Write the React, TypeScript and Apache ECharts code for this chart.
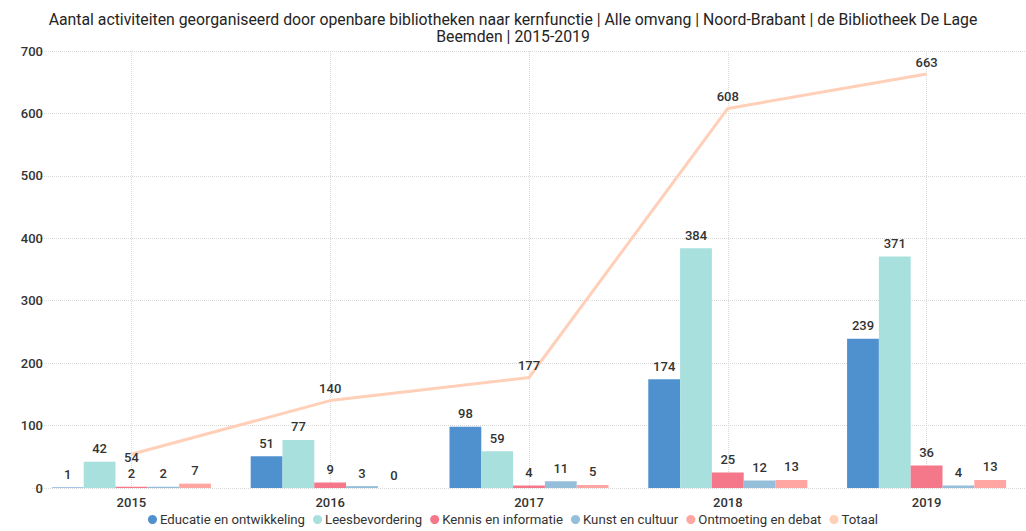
import React, { useEffect, useRef } from "react";
import * as echarts from "echarts";

const years = ["2015", "2016", "2017", "2018", "2019"];
const educatie = [1, 51, 98, 174, 239];
const leesbevordering = [42, 77, 59, 384, 371];
const kennis = [2, 9, 4, 25, 36];
const kunst = [2, 3, 11, 12, 4];
const ontmoeting = [7, 0, 5, 13, 13];
const totaal = [54, 140, 177, 608, 663];

const seriesNames = [
  "Educatie en ontwikkeling",
  "Leesbevordering",
  "Kennis en informatie",
  "Kunst en cultuur",
  "Ontmoeting en debat",
  "Totaal",
];
const colors = ["#4F90CF", "#A8E0DE", "#F4788A", "#95BEDA", "#FFA6A2", "#FFCFB8"];

const FONT = "Roboto, 'DejaVu Sans', sans-serif";
const TEXT = "#333333";

export default function App() {
  const ref = useRef<HTMLDivElement>(null);

  useEffect(() => {
    if (!ref.current) return;
    const chart = echarts.init(ref.current, null, { renderer: "svg" });
    const barData = [educatie, leesbevordering, kennis, kunst, ontmoeting];
    const labelStyle = {
      show: true,
      position: "top" as const,
      color: TEXT,
      fontSize: 13,
      lineHeight: 12,
      fontWeight: 500,
      fontFamily: FONT,
      distance: 7,
    };
    const bars = barData.map((d, i) => ({
      name: seriesNames[i],
      type: "bar",
      data: d,
      barGap: "0%",
      barCategoryGap: "20%",
      z: 3,
      itemStyle: { color: colors[i] },
      label: labelStyle,
    }));
    chart.setOption({
      animation: false,
      color: colors,
      textStyle: { fontFamily: FONT },
      title: {
        text:
          "Aantal activiteiten georganiseerd door openbare bibliotheken naar kernfunctie | Alle omvang | Noord-Brabant | de Bibliotheek De Lage\nBeemden | 2015-2019",
        left: "center",
        top: 6,
        textStyle: {
          fontSize: 15.8,
          fontWeight: "normal",
          color: "#252423",
          fontFamily: FONT,
          lineHeight: 17,
        },
      },
      legend: {
        bottom: 0,
        left: "center",
        icon: "circle",
        itemWidth: 9,
        itemHeight: 9,
        itemGap: 8,
        textStyle: { fontSize: 13.2, color: TEXT, fontFamily: FONT, padding: [0, 0, 0, -2] },
        data: seriesNames,
      },
      grid: { left: 32, top: 51, width: 1009, height: 437 },
      xAxis: {
        type: "category",
        data: years,
        axisLine: { show: false },
        axisTick: { show: false },
        axisLabel: { color: TEXT, fontSize: 13, fontWeight: 500, margin: 8, fontFamily: FONT },
      },
      yAxis: {
        type: "value",
        min: 0,
        max: 700,
        interval: 100,
        axisLine: { show: false },
        axisTick: { show: false },
        axisLabel: { color: TEXT, fontSize: 13, fontWeight: 500, margin: -11, fontFamily: FONT },
        splitLine: { lineStyle: { color: "#d9d9d9", type: "dotted", width: 1 } },
      },
      series: [
        ...bars,
        {
          name: seriesNames[5],
          type: "line",
          data: totaal.map((v, i) =>
            i === 0 ? { value: v, label: { position: "bottom", distance: 1, offset: [0, -4] } } : v
          ),
          symbol: "circle",
          symbolSize: 0,
          showSymbol: true,
          z: 4,
          lineStyle: { color: colors[5], width: 3 },
          itemStyle: { color: colors[5] },
          label: { ...labelStyle, distance: 6 },
          markLine: {
            silent: true,
            symbol: "none",
            z: 1,
            label: { show: false },
            lineStyle: { color: "#d9d9d9", type: "dotted", width: 1 },
            data: years.map((y) => ({ xAxis: y })),
          },
        },
      ],
    });
    return () => chart.dispose();
  }, []);

  return (
    <div
      ref={ref}
      style={{ position: "absolute", left: 0, top: 0, width: 1026, height: 531, background: "#fff" }}
    />
  );
}
